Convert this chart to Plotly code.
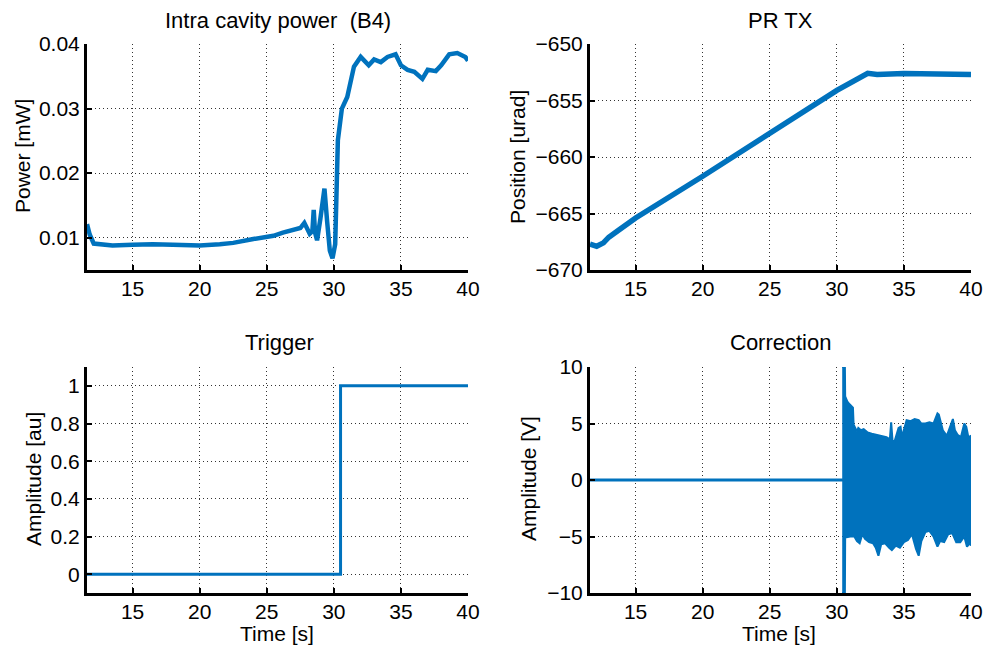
import plotly.graph_objects as go
from plotly.subplots import make_subplots

# Intra cavity power (B4)
power_t = [11.6, 11.8, 12.1, 12.8, 13.5, 15.0, 16.5, 18.0, 20.0, 21.5, 22.5, 24.0, 25.0,
           25.5, 26.2, 27.0, 27.5, 27.8, 28.0, 28.2, 28.4, 28.5, 28.6, 28.75, 29.0,
           29.3, 29.5, 29.7, 29.9, 30.1, 30.3, 30.6, 31.0, 31.5, 32.0, 32.6, 33.0,
           33.5, 34.0, 34.6, 35.0, 35.5, 36.0, 36.6, 37.0, 37.6, 38.0, 38.6, 39.2,
           39.8, 40.0]
power_mw = [0.0121, 0.0105, 0.0091, 0.0089, 0.0088, 0.0089, 0.0090, 0.0089, 0.0088,
            0.0090, 0.0092, 0.0098, 0.0101, 0.0103, 0.0108, 0.0113, 0.0115, 0.0123,
            0.0116, 0.0106, 0.0110, 0.0143, 0.0108, 0.0096, 0.0130, 0.0176, 0.0125,
            0.0080, 0.0068, 0.0090, 0.0251, 0.0300, 0.0318, 0.0365, 0.0380, 0.0367,
            0.0376, 0.0372, 0.0380, 0.0384, 0.0367, 0.0360, 0.0357, 0.0346, 0.0360,
            0.0358, 0.0367, 0.0384, 0.0386, 0.0380, 0.0374]

# PR TX
prtx_t = [11.6, 12.1, 12.6, 13.0, 13.7, 15.0, 20.0, 25.0, 30.0, 32.3, 33.0, 35.0, 37.0,
          40.0]
prtx_urad = [-667.7, -667.9, -667.6, -667.1, -666.5, -665.4, -661.7, -657.9, -654.1,
             -652.6, -652.7, -652.6, -652.6, -652.7]

# Trigger
trig_t = [11.6, 30.5, 30.5, 40.0]
trig_au = [0, 0, 1, 1]

# Correction: flat part, then upper / lower envelope of the noisy band
corr_flat_t = [11.6, 30.45]
corr_flat_v = [0, 0]
corr_up_t = [30.4, 30.6, 30.62, 30.8, 30.95, 31.2, 31.25, 31.5, 31.6, 31.8, 32.0, 32.3,
             32.6, 33.0, 33.4, 33.7, 33.95, 34.05, 34.15, 34.3, 34.6, 34.75, 34.85,
             35.2, 35.5, 35.8, 36.1, 36.3, 36.6, 36.9, 37.2, 37.5, 37.6, 37.9, 38.2,
             38.5, 38.65, 38.8, 39.0, 39.25, 39.5, 39.65, 39.8, 40.0]
corr_up_v = [10, 10, 7.4, 6.9, 6.7, 6.4, 4.9, 4.3, 4.6, 4.4, 4.5, 4.2, 4.1, 4.0, 3.9,
             3.8, 3.6, 5.1, 3.5, 3.4, 4.6, 4.7, 3.8, 5.3, 5.2, 5.4, 5.3, 5.0, 5.0, 5.1,
             5.0, 5.9, 5.8, 4.4, 3.9, 5.0, 5.4, 4.4, 4.0, 3.8, 5.0, 4.7, 3.8, 3.9]
corr_lo_t = [30.4, 30.6, 30.62, 31.0, 31.3, 31.5, 31.7, 31.9, 32.1, 32.4, 32.7, 32.9,
             33.1, 33.3, 33.6, 33.9, 34.1, 34.4, 34.7, 35.0, 35.3, 35.6, 35.9, 36.1,
             36.3, 36.6, 36.9, 37.2, 37.5, 37.7, 38.0, 38.3, 38.6, 38.9, 39.2, 39.5,
             39.7, 39.9, 40.0]
corr_lo_v = [-10, -10, -5.1, -5.0, -5.0, -5.4, -5.6, -4.8, -5.2, -5.5, -5.6, -6.0,
             -6.7, -5.7, -5.6, -6.0, -6.2, -5.8, -6.0, -5.5, -5.3, -4.8, -6.1, -6.7,
             -5.4, -4.6, -4.5, -5.0, -5.9, -5.4, -5.5, -4.8, -4.7, -5.5, -5.5, -5.0,
             -5.9, -5.6, -5.8]

BLUE = '#0072BD'
FONT = 'Liberation Sans, Arial, Helvetica, sans-serif'

fig = make_subplots(rows=2, cols=2)

fig.add_trace(go.Scatter(x=power_t, y=power_mw, mode='lines',
                         line=dict(color=BLUE, width=4.5)), row=1, col=1)
fig.add_trace(go.Scatter(x=prtx_t, y=prtx_urad, mode='lines',
                         line=dict(color=BLUE, width=5.5)), row=1, col=2)
fig.add_trace(go.Scatter(x=trig_t, y=trig_au, mode='lines',
                         line=dict(color=BLUE, width=3)), row=2, col=1)
fig.add_trace(go.Scatter(x=corr_flat_t, y=corr_flat_v, mode='lines',
                         line=dict(color=BLUE, width=3)), row=2, col=2)
fig.add_trace(go.Scatter(x=corr_up_t + corr_lo_t[::-1],
                         y=corr_up_v + corr_lo_v[::-1],
                         mode='lines', fill='toself', fillcolor=BLUE,
                         line=dict(color=BLUE, width=2)), row=2, col=2)

W, H = 984, 646
left_dom = [87 / W, 468 / W]
right_dom = [590 / W, 971 / W]
top_dom = [1 - 270 / H, 1 - 44 / H]
bot_dom = [1 - 593 / H, 1 - 367 / H]

axis_style = dict(
    automargin=False,
    showline=True, linecolor='black', linewidth=3, mirror=False,
    ticks='inside', ticklen=5, tickwidth=2, tickcolor='black',
    showgrid=True, gridcolor='#333333', gridwidth=1, griddash='1px,3px',
    zeroline=False, tickfont=dict(family=FONT, size=21, color='black'),
)
x_style = dict(axis_style, range=[11.6, 40], dtick=5, tick0=0, ticklabelstandoff=-2)

fig.update_layout(
    width=W, height=H, showlegend=False,
    paper_bgcolor='white', plot_bgcolor='white',
    margin=dict(l=0, r=0, t=0, b=0, pad=0),
    font=dict(family=FONT, size=21, color='black'),
    xaxis=dict(x_style, domain=left_dom),
    yaxis=dict(axis_style, domain=top_dom, range=[0.005, 0.04],
               tickvals=[0.01, 0.02, 0.03, 0.04], tickformat='.2f'),
    xaxis2=dict(x_style, domain=right_dom),
    yaxis2=dict(axis_style, domain=top_dom, range=[-670, -650], dtick=5),
    xaxis3=dict(x_style, domain=left_dom),
    yaxis3=dict(axis_style, domain=bot_dom, range=[-0.1, 1.1],
                tickvals=[0, 0.2, 0.4, 0.6, 0.8, 1]),
    xaxis4=dict(x_style, domain=right_dom),
    yaxis4=dict(axis_style, domain=bot_dom, range=[-10, 10], dtick=5),
)

def label(text, x, y, angle=0, size=21):
    fig.add_annotation(text=text, x=x / W, y=1 - y / H, xref='paper', yref='paper',
                       showarrow=False, textangle=angle,
                       font=dict(family=FONT, size=size, color='black'),
                       xanchor='center', yanchor='middle')

label('Intra cavity power  (B4)', 278, 20, size=22)
label('PR TX', 780, 20, size=22)
label('Trigger', 279, 342, size=22)
label('Correction', 780, 342, size=22)
label('Power [mW]', 22, 156, angle=-90)
label('Position [urad]', 517, 157, angle=-90)
label('Amplitude [au]', 33, 479, angle=-90)
label('Amplitude [V]', 528, 479, angle=-90)
label('Time [s]', 277, 633)
label('Time [s]', 779, 633)

fig.write_html("out.html", config={'displayModeBar': False},
               post_script="document.body.style.margin='0';"
                           "document.body.style.overflow='hidden';")
